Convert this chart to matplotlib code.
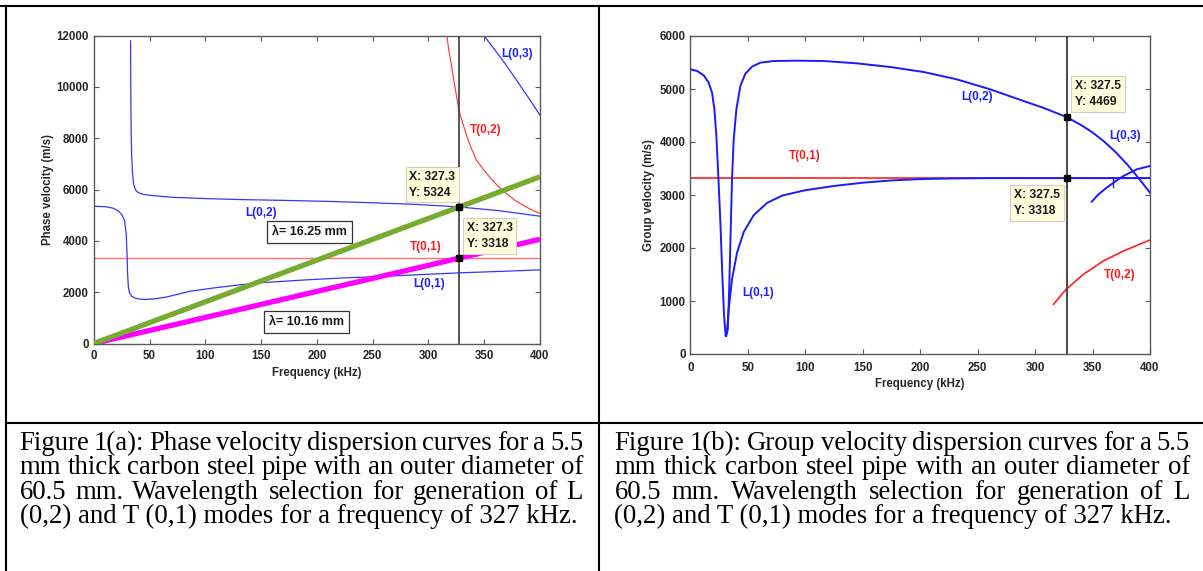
import matplotlib
matplotlib.use('Agg')
import matplotlib.pyplot as plt
from matplotlib.lines import Line2D

# ---------------- data ----------------
freq_ticks = [0, 50, 100, 150, 200, 250, 300, 350, 400]
phase_ticks = [0, 2000, 4000, 6000, 8000, 10000, 12000]
group_ticks = [0, 1000, 2000, 3000, 4000, 5000, 6000]

# Panel (a): phase velocity
ph_L01_f = [0, 10, 17, 22, 25.5, 27.5, 29, 29.8, 30.3, 31, 32, 34, 37, 42, 48, 55, 65, 87, 110, 131, 149, 190, 225, 251, 290, 327.3, 370, 400]
ph_L01_v = [5350, 5335, 5280, 5170, 5000, 4800, 4300, 3500, 2700, 2200, 1980, 1840, 1770, 1725, 1720, 1745, 1810, 2043, 2180, 2286, 2366, 2480, 2560, 2600, 2680, 2754, 2820, 2870]
ph_L02_f = [33.0, 33.1, 33.3, 33.6, 34.0, 34.6, 35.4, 36.5, 38, 40, 44, 50, 70, 100, 131, 170, 210, 251, 290, 327.3, 362, 400]
ph_L02_v = [11800, 10500, 9000, 8000, 7300, 6700, 6300, 6080, 5950, 5880, 5820, 5780, 5700, 5650, 5612, 5580, 5540, 5485, 5420, 5324, 5185, 4963]
ph_L03_f = [350, 355, 360, 370, 380, 390, 400]
ph_L03_v = [12000, 11700, 11420, 10830, 10200, 9560, 8900]
ph_T01_f = [0, 400]
ph_T01_v = [3318, 3318]
ph_T02_f = [316.6, 318, 320, 323, 327.3, 331, 335, 339, 343, 349, 355, 362, 370, 377, 385, 392, 400]
ph_T02_v = [12000, 11500, 11000, 10200, 9100, 8550, 8000, 7550, 7150, 6800, 6480, 6150, 5845, 5600, 5390, 5220, 5066]
lam_f = [0, 400]
lam_1625_v = [0, 6500]
lam_1016_v = [0, 4064]

tip_a_x = 327.3
tip_a_y = [5324, 3318]

# Panel (b): group velocity
gr_L01_f = [0, 5.8, 11.6, 15.9, 18.8, 20.9, 22.6, 24.3, 26.1, 27.8, 29.3, 30.7, 31.9, 33.3, 36.2, 40.6, 46.4, 55.1, 66.7, 80, 100, 125, 150, 175, 200, 230, 260, 327.5, 400]
gr_L01_v = [5371, 5340, 5258, 5119, 4931, 4616, 4113, 3358, 2478, 1472, 717, 340, 434, 843, 1409, 1912, 2300, 2620, 2850, 2990, 3090, 3170, 3232, 3275, 3300, 3313, 3318, 3318, 3318]
gr_L02_f = [31.2, 32.5, 33.6, 34.8, 36.2, 37.7, 40, 43.5, 47.8, 53.6, 60.9, 72.5, 92.8, 115.9, 144.9, 173.9, 202.9, 231.9, 260.9, 289.9, 307.2, 327.5, 340, 350, 360, 370, 380, 390, 400]
gr_L02_v = [340, 465, 1094, 2101, 3296, 4050, 4616, 5057, 5289, 5421, 5497, 5528, 5535, 5528, 5484, 5415, 5321, 5182, 4994, 4774, 4645, 4469, 4320, 4180, 4010, 3810, 3580, 3320, 3044]
gr_L03_f = [349.3, 355, 362.3, 370, 376.8, 388.4, 400]
gr_L03_v = [2874, 3010, 3138, 3260, 3358, 3484, 3547]
gr_blip_f = [368, 368]
gr_blip_v = [3318, 3150]
gr_T01_f = [0, 400]
gr_T01_v = [3318, 3318]
gr_T02_f = [316, 327, 342, 359.4, 376.8, 400]
gr_T02_v = [937, 1220, 1503, 1755, 1943, 2151]

tip_b_x = 327.5
tip_b_y = [4469, 3318]

caption_a = ["Figure 1(a): Phase velocity dispersion curves for a 5.5",
             "mm thick carbon steel pipe with an outer diameter of",
             "60.5 mm. Wavelength selection for generation of L",
             "(0,2) and T (0,1) modes for a frequency of 327 kHz."]
caption_b = ["Figure 1(b): Group velocity dispersion curves for a 5.5",
             "mm thick carbon steel pipe with an outer diameter of",
             "60.5 mm. Wavelength selection for generation of L",
             "(0,2) and T (0,1) modes for a frequency of 327 kHz."]

# ---------------- figure ----------------
W, H = 1203, 571
plt.rcParams['font.family'] = ['Liberation Sans', 'DejaVu Sans']
plt.rcParams['font.weight'] = 'bold'
plt.rcParams['axes.labelweight'] = 'bold'
fig = plt.figure(figsize=(W / 100, H / 100), dpi=100)


def px_axes(x0, y0, x1, y1):
    return [x0 / W, 1 - y1 / H, (x1 - x0) / W, (y1 - y0) / H]


BLUE_A = '#3535ff'
RED_A = '#ff3030'
GREEN = '#77ac30'
MAG = '#ff00ff'
SPINE = '#5a5a5a'
TXT = '#262626'


def style_axes(ax, yticks, ylim):
    ax.set_xlim(0, 400)
    ax.set_ylim(*ylim)
    ax.set_xticks(freq_ticks)
    ax.set_yticks(yticks)
    ax.set_xticklabels([str(t) for t in freq_ticks], fontweight='bold')
    ax.set_yticklabels([str(t) for t in yticks], fontweight='bold')
    ax.tick_params(direction='in', top=True, right=True, length=3.5, width=0.8,
                   color=SPINE, labelsize=8.3, labelcolor=TXT)
    ax.tick_params(axis='x', pad=5.0)
    ax.tick_params(axis='y', pad=3.5)
    for s in ax.spines.values():
        s.set_color(SPINE)
        s.set_linewidth(1.0)


def datatip(ax, x, y, txt):
    ax.text(x, y, txt, ha='left', va='center', fontsize=8.7, color='#1a1a1a',
            linespacing=1.45, zorder=10,
            bbox=dict(boxstyle='square,pad=0.3', fc='#ffffe0', ec='#d0d0c0', lw=0.8))


# ---- panel (a)
ax = fig.add_axes(px_axes(93.8, 35.7, 540, 343.5))
ax.plot(ph_T01_f, ph_T01_v, color='#ff7070', lw=1.0, zorder=2)
ax.plot(ph_T02_f, ph_T02_v, color=RED_A, lw=0.8, zorder=2)
ax.plot(ph_L01_f, ph_L01_v, color=BLUE_A, lw=0.9, zorder=2)
ax.plot(ph_L02_f, ph_L02_v, color=BLUE_A, lw=0.9, zorder=2)
ax.plot(ph_L03_f, ph_L03_v, color=BLUE_A, lw=0.9, zorder=2)
ax.plot(lam_f, lam_1016_v, color=MAG, lw=3.8, solid_capstyle='butt', zorder=3)
ax.plot(lam_f, lam_1625_v, color=GREEN, lw=3.8, solid_capstyle='butt', zorder=4)
ax.axvline(tip_a_x, color='#3a3a3a', lw=1.2, zorder=5)
ax.plot([tip_a_x] * 2, tip_a_y, 's', color='black', ms=4.5, zorder=6)
style_axes(ax, phase_ticks, (0, 12000))
ax.set_xlabel('Frequency (kHz)', fontsize=8.3, color=TXT, fontweight='bold')
ax.set_ylabel('Phase velocity (m/s)', fontsize=8.3, color=TXT, fontweight='bold')
ax.xaxis.set_label_coords(0.5, -0.076)
ax.yaxis.set_label_coords(-0.090, 0.5)

lab = dict(fontsize=8.5, ha='center', va='center', zorder=7, fontweight='bold')
ax.text(379.7, 11290, 'L(0,3)', color='#2020ff', **lab)
ax.text(351.6, 8311, 'T(0,2)', color='#ff1a1a', **lab)
ax.text(149.9, 5099, 'L(0,2)', color='#2020ff', **lab)
ax.text(297.4, 3779, 'T(0,1)', color='#ff1a1a', **lab)
ax.text(300.8, 2330, 'L(0,1)', color='#2020ff', **lab)

boxlab = dict(fontsize=9, ha='center', va='center', color='#1a1a1a', zorder=7, fontweight='bold',
              bbox=dict(boxstyle='square,pad=0.4', fc='white', ec='#333333', lw=0.9))
ax.text(193, 4330, 'λ= 16.25 mm', **boxlab)
ax.text(190.6, 854, 'λ= 10.16 mm', **boxlab)

datatip(ax, 283, 6190, 'X: 327.3\nY: 5324')
datatip(ax, 334.2, 4194, 'X: 327.3\nY: 3318')

# ---- panel (b)
ax = fig.add_axes(px_axes(690.4, 36, 1150, 354))
ax.plot(gr_T01_f, gr_T01_v, color='#ff3030', lw=1.3, zorder=2)
ax.plot(gr_T02_f, gr_T02_v, color='#ff2020', lw=1.2, zorder=2)
ax.plot(gr_L01_f, gr_L01_v, color='#1a1aff', lw=1.4, zorder=3)
ax.plot(gr_L02_f, gr_L02_v, color='#1a1aff', lw=1.4, zorder=3)
ax.plot(gr_L03_f, gr_L03_v, color='#1a1aff', lw=1.4, zorder=3)
ax.plot(gr_blip_f, gr_blip_v, color='#1a1aff', lw=1.0, zorder=3)
ax.axvline(tip_b_x, color='#3a3a3a', lw=1.3, zorder=5)
ax.plot([tip_b_x] * 2, tip_b_y, 's', color='black', ms=4.5, zorder=6)
style_axes(ax, group_ticks, (0, 6000))
ax.tick_params(axis='x', pad=6.0)
ax.set_xlabel('Frequency (kHz)', fontsize=8.3, color=TXT, fontweight='bold')
ax.set_ylabel('Group velocity (m/s)', fontsize=8.3, color=TXT, fontweight='bold')
ax.xaxis.set_label_coords(0.5, -0.077)
ax.yaxis.set_label_coords(-0.077, 0.5)

ax.text(249.3, 4843, 'L(0,2)', color='#2020ff', **lab)
ax.text(378.2, 4119, 'L(0,3)', color='#2020ff', **lab)
ax.text(99.7, 3736, 'T(0,1)', color='#ff1a1a', **lab)
ax.text(58.6, 1145, 'L(0,1)', color='#2020ff', **lab)
ax.text(373.8, 1490, 'T(0,2)', color='#ff1a1a', **lab)

datatip(ax, 334.7, 4906, 'X: 327.5\nY: 4469')
datatip(ax, 281.6, 2849, 'X: 327.5\nY: 3318')

# ---- table borders
def fig_line(x0, y0, x1, y1, lw=1.5):
    fig.add_artist(Line2D([x0 / W, x1 / W], [1 - y0 / H, 1 - y1 / H],
                          color='black', lw=lw, transform=fig.transFigure))

fig_line(0, 6, W, 6)
fig_line(6, 6, 6, H)
fig_line(599, 6, 599, H)
fig_line(6, 423, W, 423)

# ---- captions (justified)
renderer = fig.canvas.get_renderer()
SERIF = ['Liberation Serif', 'DejaVu Serif']


def text_width(s, size):
    t = fig.text(0, 0, s, fontsize=size, family=SERIF, fontweight='normal')
    w = t.get_window_extent(renderer).width
    t.remove()
    return w

cap_size = 10 * 557 / text_width(caption_a[3], 10)
baselines = [450, 474.3, 498.6, 523]


def draw_caption(lines, x0, x1):
    for i, (line, yb) in enumerate(zip(lines, baselines)):
        yf = 1 - yb / H
        if i == len(lines) - 1:
            fig.text(x0 / W, yf, line, fontsize=cap_size, family=SERIF,
                     fontweight='normal', va='baseline', ha='left', color='black')
            continue
        words = line.split(' ')
        widths = [text_width(w, cap_size) for w in words]
        gap = (x1 - x0 - sum(widths)) / (len(words) - 1)
        x = x0
        for w, wd in zip(words, widths):
            fig.text(x / W, yf, w, fontsize=cap_size, family=SERIF,
                     fontweight='normal', va='baseline', ha='left', color='black')
            x += wd + gap

draw_caption(caption_a, 19.5, 583)
draw_caption(caption_b, 614.5, 1190)

fig.savefig('out.png', dpi=100)
